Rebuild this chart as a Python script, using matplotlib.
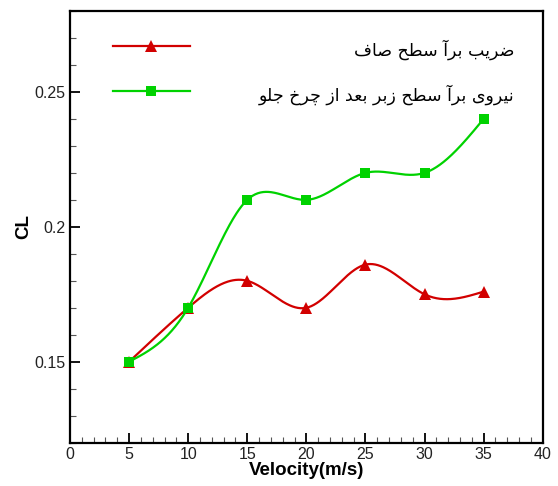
import numpy as np
import matplotlib
matplotlib.use("Agg")
import matplotlib.pyplot as plt
from matplotlib.lines import Line2D
from matplotlib.ticker import MultipleLocator

# ---------------- data ----------------
velocity = [5, 10, 15, 20, 25, 30, 35]
cl_smooth = [0.150, 0.170, 0.180, 0.170, 0.186, 0.175, 0.176]
cl_rough = [0.150, 0.170, 0.210, 0.210, 0.220, 0.220, 0.240]
series_labels = ["ضریب برآ سطح صاف", "نیروی برآ سطح زبر بعد از چرخ جلو"]
x_label = "Velocity(m/s)"
y_label = "CL"
x_ticks = [0, 5, 10, 15, 20, 25, 30, 35, 40]
y_ticks = [0.15, 0.2, 0.25]
y_tick_labels = ["0.15", "0.2", "0.25"]

RED = "#d20000"
GREEN = "#00d200"

# ---------------- simple Arabic/Persian shaping ----------------
FORMS = {
    "ا": ("\uFE8D", "\uFE8E", None, None),
    "آ": ("\uFE81", "\uFE82", None, None),
    "ب": ("\uFE8F", "\uFE90", "\uFE91", "\uFE92"),
    "ج": ("\uFE9D", "\uFE9E", "\uFE9F", "\uFEA0"),
    "ح": ("\uFEA1", "\uFEA2", "\uFEA3", "\uFEA4"),
    "خ": ("\uFEA5", "\uFEA6", "\uFEA7", "\uFEA8"),
    "د": ("\uFEA9", "\uFEAA", None, None),
    "ر": ("\uFEAD", "\uFEAE", None, None),
    "ز": ("\uFEAF", "\uFEB0", None, None),
    "س": ("\uFEB1", "\uFEB2", "\uFEB3", "\uFEB4"),
    "ص": ("\uFEB9", "\uFEBA", "\uFEBB", "\uFEBC"),
    "ض": ("\uFEBD", "\uFEBE", "\uFEBF", "\uFEC0"),
    "ط": ("\uFEC1", "\uFEC2", "\uFEC3", "\uFEC4"),
    "ع": ("\uFEC9", "\uFECA", "\uFECB", "\uFECC"),
    "ف": ("\uFED1", "\uFED2", "\uFED3", "\uFED4"),
    "ل": ("\uFEDD", "\uFEDE", "\uFEDF", "\uFEE0"),
    "ن": ("\uFEE5", "\uFEE6", "\uFEE7", "\uFEE8"),
    "و": ("\uFEED", "\uFEEE", None, None),
    "ی": ("\uFEEF", "\uFEF0", "\uFEF3", "\uFEF4"),
    "چ": ("\uFB7A", "\uFB7B", "\uFB7C", "\uFB7D"),
}


def shape(text):
    out = []
    for i, c in enumerate(text):
        if c not in FORMS:
            out.append(c)
            continue
        prev = text[i - 1] if i > 0 else None
        nxt = text[i + 1] if i + 1 < len(text) else None
        jp = prev in FORMS and FORMS[prev][2] is not None
        jn = nxt in FORMS and FORMS[c][2] is not None
        iso, fin, ini, med = FORMS[c]
        if jp and jn:
            out.append(med)
        elif jp:
            out.append(fin)
        elif jn:
            out.append(ini)
        else:
            out.append(iso)
    return "".join(reversed(out))


def natural_spline(x, y, xs):
    x = np.asarray(x, float)
    y = np.asarray(y, float)
    n = len(x)
    h = np.diff(x)
    A = np.zeros((n, n))
    r = np.zeros(n)
    A[0, 0] = 1
    A[-1, -1] = 1
    for i in range(1, n - 1):
        A[i, i - 1] = h[i - 1]
        A[i, i] = 2 * (h[i - 1] + h[i])
        A[i, i + 1] = h[i]
        r[i] = 3 * ((y[i + 1] - y[i]) / h[i] - (y[i] - y[i - 1]) / h[i - 1])
    c = np.linalg.solve(A, r)
    b = (y[1:] - y[:-1]) / h - h * (2 * c[:-1] + c[1:]) / 3
    d = (c[1:] - c[:-1]) / (3 * h)
    idx = np.clip(np.searchsorted(x, xs) - 1, 0, n - 2)
    dx = xs - x[idx]
    return y[idx] + b[idx] * dx + c[idx] * dx ** 2 + d[idx] * dx ** 3


# ---------------- figure ----------------
fig = plt.figure(figsize=(5.58, 4.86), dpi=100)
ax = fig.add_axes([0.1254, 0.0891, 0.8472, 0.8883])

xs = np.linspace(velocity[0], velocity[-1], 400)
ax.plot(xs, natural_spline(velocity, cl_smooth, xs), color=RED, lw=1.6, zorder=3)
ax.plot(velocity, cl_smooth, linestyle="none", marker="^", ms=8.5, color=RED,
        markeredgewidth=0, zorder=4)
ax.plot(xs, natural_spline(velocity, cl_rough, xs), color=GREEN, lw=1.6, zorder=5)
ax.plot(velocity, cl_rough, linestyle="none", marker="s", ms=7.5, color=GREEN,
        markeredgewidth=0, zorder=6)

ax.set_xlim(0, 40)
ax.set_ylim(0.12, 0.28)
ax.set_xticks(x_ticks)
ax.set_xticklabels([str(t) for t in x_ticks])
ax.set_yticks(y_ticks)
ax.set_yticklabels(y_tick_labels)
ax.xaxis.set_minor_locator(MultipleLocator(1))
ax.yaxis.set_minor_locator(MultipleLocator(0.01))

for sp in ax.spines.values():
    sp.set_linewidth(1.6)
ax.tick_params(which="major", direction="in", length=7, width=1.3, pad=3,
               labelsize=11.5, labelcolor="#222222", top=False, right=False)
ax.tick_params(which="minor", direction="in", length=4, width=0.8,
               color="#555555", top=False, right=False)
for lab in ax.get_xticklabels() + ax.get_yticklabels():
    lab.set_fontfamily("Liberation Sans")

ax.set_xlabel(x_label, fontsize=13.5, fontweight="bold", family="Liberation Sans",
              labelpad=0)
ax.set_ylabel(y_label, fontsize=13.5, fontweight="bold", family="Liberation Sans",
              labelpad=2)

# legend (drawn manually to match layout)
leg_rows = [(RED, "^", 8.5, 0.918), (GREEN, "s", 7.5, 0.815)]
for (col, mk, ms, yy), lab in zip(leg_rows, series_labels):
    ax.add_line(Line2D([0.091, 0.253], [yy, yy], transform=ax.transAxes,
                       color=col, lw=1.6))
    ax.add_line(Line2D([0.172], [yy], transform=ax.transAxes, color=col,
                       marker=mk, ms=ms, markeredgewidth=0, linestyle="none"))
    ax.text(0.94, yy - 0.008, shape(lab), transform=ax.transAxes, ha="right",
            va="center", fontsize=12.5, family=["DejaVu Sans"], color="black")

fig.savefig("out.png", dpi=100)
